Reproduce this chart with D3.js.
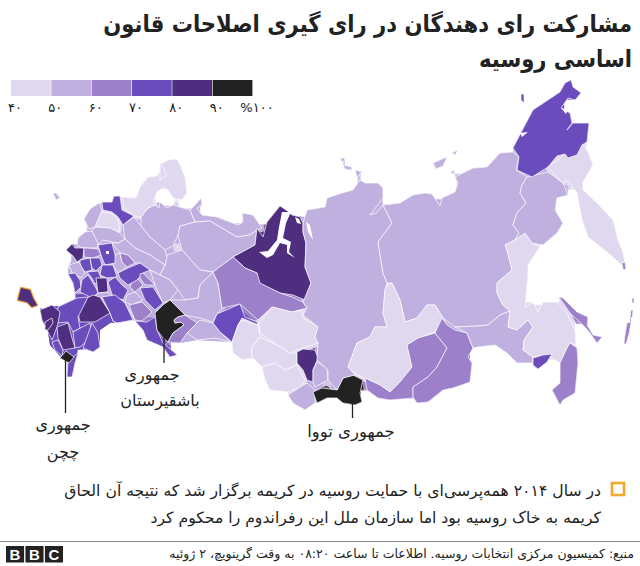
<!DOCTYPE html>
<html lang="fa"><head><meta charset="utf-8">
<script src="https://cdn.jsdelivr.net/npm/d3@7"></script>
<style>html,body{margin:0;background:#fff}svg{display:block}text{font-family:"DejaVu Sans",sans-serif;fill:#222}</style>
</head><body><svg id="c" width="640" height="566"></svg>
<script>
// Legend
const legendBreaks=[40,50,60,70,80,90,100];
const legendLabels=["۴۰","۵۰","۶۰","۷۰","۸۰","۹۰","%۱۰۰"];
const binColours=["#e0d8ef","#bfb0e0","#9c80c9","#6a4cbc","#4f2e80","#222222"];
// Region names, estimated turnout (read from the colour bins), outlines
const regionNames=["base","south base","ural base","Arkhangelsk","Nenets","Komi","Kirov","Perm","Vologda","Kostroma","Mari","Udmurtia","Karelia-Murmansk","Leningrad","Novgorod","Pskov","Tver","Smolensk","Bryansk","Oryol","Kaluga","Tula","Ryazan","Moscow","Kursk","Lipetsk","Belgorod","Voronezh W","Tambov","Voronezh","Penza","Nizhny","Ivanovo","Chuvashia","Kirov S","Tatarstan","Ulyanovsk","Samara","Saratov-Orenburg","Bashkortostan","Chelyabinsk","Kurgan","Rostov","Volgograd","Krasnodar N","Krasnodar","Adygea","Stavropol","Kalmykia W","Kalmykia E","KChR","Dagestan","Chechnya","Crimea","Khanty-Yamal","Sverdlovsk","Tyumen","Omsk S","Tomsk","Novosibirsk","Altai Krai","Kemerovo","Khakassia","Altai Rep","Tuva","Krasnoyarsk","Yakutia","Irkutsk","Buryatia","Zabaykalsky","Amur","Khabarovsk","Jewish AO","Primorye","Sakhalin","Magadan","Kamchatka","Chukotka","Wrangel","Kuril 1","Kuril 2","Kuril 3","Kuril 4","Isl 1","Isl 2","Isl 3","Isl 4","Isl 5","Isl 6","Novaya","Kaliningrad"];
const regionTurnout=[55,75,55,55,55,55,55,55,55,55,55,55,45,75,45,55,55,55,85,65,75,75,75,75,55,75,75,75,65,85,75,75,65,65,55,75,55,65,75,95,65,55,85,75,75,85,85,85,75,75,75,75,95,85,85,65,75,45,45,45,45,85,55,55,95,55,55,45,65,65,55,45,75,65,65,55,45,75,75,65,65,65,65,55,55,55,55,55,55,45,55];
const regionOutlines=[
[[120,233],[134,217],[165,250],[200,285],[185,315],[155,313],[135,320],[110,313],[93,295],[80,292],[73,283],[68,274],[69,265],[78,250],[85,232]],
[[58,307],[77,298],[93,295],[110,313],[113,321],[100,330],[100,347],[75,350],[60,356],[50,345],[48,332],[58,323],[68,322]],
[[155,313],[222,308],[232,342],[197,340],[180,343],[170,342]],
[[141,217],[148,208],[155,205],[159,208],[160,202],[167,208],[173,205],[190,210],[195,222],[180,226],[178,235],[173,246],[165,250],[150,237],[141,226]],
[[190,210],[195,205],[201,198],[202,205],[197,208],[202,215],[217,217],[238,225],[243,222],[242,213],[253,215],[262,228],[257,230],[250,235],[237,237],[220,227],[210,221],[195,222]],
[[195,222],[210,221],[220,227],[237,237],[250,235],[257,230],[255,245],[233,257],[213,272],[200,270],[182,250],[178,235],[180,226]],
[[167,255],[182,250],[200,270],[213,272],[200,285],[198,298],[185,300],[178,290],[170,280],[160,275],[165,265]],
[[213,272],[218,283],[222,308],[217,314],[213,322],[200,318],[185,315],[177,307],[170,300],[185,300],[198,298],[200,285]],
[[123,225],[134,217],[141,226],[150,237],[165,250],[167,258],[165,265],[150,255],[135,248],[125,239]],
[[125,239],[135,248],[150,255],[165,265],[160,275],[150,270],[140,263],[135,263],[128,255],[120,253],[112,243],[118,243]],
[[115,255],[120,253],[122,262],[127,267],[118,273],[113,265]],
[[150,270],[160,275],[170,280],[178,290],[170,300],[163,303],[155,285]],
[[122,197],[136,198],[140,187],[148,177],[157,176],[160,170],[161,164],[168,160],[177,159],[181,167],[185,177],[187,193],[182,200],[173,198],[168,190],[163,187],[157,192],[154,200],[155,205],[148,208],[141,217],[134,216],[124,208]],
[[102,202],[112,202],[114,196],[120,196],[122,210],[134,216],[123,225],[118,217],[112,212],[103,210]],
[[100,212],[111,213],[118,219],[120,232],[110,228],[95,227]],
[[84,219],[90,209],[99,203],[102,210],[95,227],[89,229]],
[[92,231],[95,227],[110,228],[120,233],[125,239],[118,243],[103,240],[98,245]],
[[78,238],[85,232],[92,231],[98,243],[97,248],[82,248],[77,245]],
[[66,250],[72,244],[75,248],[84,248],[83,258],[77,262],[73,256]],
[[84,248],[87,248],[98,249],[101,255],[93,258],[84,257]],
[[98,245],[112,243],[115,255],[115,263],[105,265],[101,255]],
[[80,260],[90,258],[92,270],[85,272],[80,266]],
[[90,258],[100,258],[102,265],[96,271],[92,268]],
[[102,265],[113,265],[117,277],[107,278],[100,275]],
[[69,265],[79,262],[85,273],[81,278],[72,273]],
[[87,272],[98,271],[101,278],[95,284],[92,278]],
[[68,274],[75,273],[80,280],[81,287],[75,293],[73,283]],
[[82,280],[88,275],[96,288],[98,293],[92,298],[80,292]],
[[132,282],[138,279],[143,285],[135,292],[130,287]],
[[96,278],[107,278],[108,292],[98,293]],
[[108,282],[115,277],[122,285],[128,290],[123,300],[113,297]],
[[118,273],[128,268],[140,263],[150,270],[143,273],[137,280],[128,285],[120,278]],
[[120,253],[128,255],[135,263],[127,267],[122,262]],
[[140,274],[143,273],[155,285],[145,285],[140,278]],
[[127,295],[135,292],[143,300],[132,305],[125,302]],
[[140,288],[153,287],[163,303],[155,310],[145,300]],
[[92,298],[98,293],[108,292],[113,297],[123,300],[125,303],[135,320],[117,323],[113,321],[110,313],[100,297]],
[[129,305],[142,302],[152,312],[142,321],[135,320]],
[[135,321],[147,322],[155,317],[157,330],[163,343],[168,347],[177,355],[170,357],[163,347],[147,340],[143,330]],
[[155,313],[163,305],[170,300],[177,307],[185,315],[178,317],[174,320],[175,323],[181,322],[184,325],[173,333],[168,342],[163,338],[157,330]],
[[185,315],[197,323],[187,333],[180,343],[168,342],[173,333],[184,325],[181,322],[175,323],[174,320],[178,317]],
[[200,320],[213,323],[220,332],[230,342],[215,338],[197,340],[187,333],[197,323]],
[[78,313],[85,303],[87,298],[93,295],[100,297],[105,305],[110,313],[95,322],[80,322]],
[[102,297],[115,295],[125,303],[133,320],[117,323],[113,321],[110,313]],
[[58,307],[77,298],[88,297],[78,317],[80,328],[73,332],[68,322],[57,323]],
[[40,310],[52,305],[60,312],[58,323],[57,327],[52,340],[48,332],[42,320]],
[[45,322],[52,318],[53,323],[48,330],[45,330]],
[[57,327],[68,323],[72,338],[75,348],[63,350],[58,338]],
[[73,332],[90,323],[92,337],[80,347],[75,348]],
[[92,323],[98,333],[100,347],[93,352],[83,348]],
[[52,342],[58,340],[63,350],[62,356],[55,350]],
[[78,353],[75,363],[72,377],[67,377],[68,362],[73,357]],
[[60,358],[66,351],[74,357],[69,363]],
[[21,288],[30,290],[33,298],[37,305],[32,307],[27,302],[18,300]],
[[233,257],[255,245],[257,228],[263,237],[267,222],[280,206],[286,210],[292,215],[300,217],[303,223],[303,232],[306,243],[305,267],[311,283],[305,300],[293,295],[280,293],[258,283],[257,273],[245,268]],
[[233,257],[213,272],[218,283],[222,308],[240,304],[258,320],[272,307],[292,312],[307,308],[303,302],[292,297],[280,293],[260,283],[257,273],[245,268]],
[[213,323],[217,314],[240,304],[245,317],[257,322],[258,325],[242,318],[238,325],[232,342],[220,332]],
[[238,325],[242,320],[258,325],[260,337],[252,347],[252,358],[243,360],[233,353],[232,342]],
[[259,323],[272,307],[292,312],[302,310],[303,318],[318,327],[315,337],[318,343],[297,350],[290,353],[277,345],[260,333]],
[[260,337],[277,345],[290,353],[297,353],[297,365],[285,370],[275,363],[262,367],[252,357],[252,347]],
[[262,367],[275,363],[285,370],[297,365],[305,380],[300,387],[288,392],[270,390],[265,380]],
[[297,352],[303,349],[315,350],[318,358],[313,370],[313,382],[307,380],[303,370],[297,363]],
[[317,362],[327,368],[328,380],[315,387],[313,382],[313,370]],
[[288,395],[300,387],[307,383],[315,390],[315,403],[305,410],[293,403]],
[[313,392],[322,388],[337,390],[343,378],[353,375],[363,380],[360,393],[362,402],[355,405],[343,403],[337,398],[327,398],[317,403]],
[[307,210],[325,207],[327,198],[342,193],[353,190],[360,180],[365,183],[378,183],[383,188],[383,198],[370,215],[376,213],[383,205],[392,223],[378,242],[383,273],[387,283],[385,290],[383,313],[387,327],[375,327],[370,337],[357,343],[348,367],[355,375],[343,378],[337,390],[328,380],[328,370],[317,360],[318,343],[315,337],[318,327],[303,315],[307,308],[303,302],[311,283],[305,267],[306,243],[303,232],[303,223]],
[[383,205],[400,203],[413,195],[425,193],[432,194],[440,206],[442,198],[455,192],[458,183],[455,177],[473,168],[487,167],[500,153],[513,152],[519,157],[516,170],[527,177],[522,185],[520,193],[526,203],[517,213],[513,225],[519,233],[515,240],[505,245],[507,250],[512,270],[497,283],[497,293],[503,305],[510,311],[500,315],[488,325],[478,326],[455,327],[443,318],[435,305],[427,305],[417,318],[405,322],[400,300],[392,283],[387,283],[383,273],[378,242],[392,223]],
[[387,285],[392,283],[400,300],[405,322],[417,318],[427,305],[435,305],[443,318],[435,332],[418,338],[407,345],[412,367],[400,382],[390,392],[380,385],[365,378],[357,375],[348,367],[357,343],[370,337],[375,327],[387,327],[383,313],[385,290]],
[[365,378],[380,385],[390,392],[400,382],[412,367],[407,345],[418,338],[435,333],[447,348],[437,367],[428,377],[413,387],[413,398],[390,400],[378,398],[367,390]],
[[435,333],[442,318],[447,325],[455,330],[467,333],[473,348],[468,357],[472,363],[470,382],[453,388],[443,390],[428,402],[417,403],[413,397],[413,387],[428,377],[437,367],[447,348]],
[[455,327],[478,326],[488,325],[500,315],[510,311],[508,327],[517,330],[528,320],[533,327],[524,340],[523,350],[533,357],[532,363],[517,363],[507,353],[495,345],[478,347],[473,348],[467,333]],
[[505,245],[515,240],[525,233],[532,243],[540,247],[528,265],[528,275],[525,308],[533,302],[538,312],[543,302],[557,302],[567,313],[575,330],[576,345],[570,343],[567,348],[560,363],[547,355],[533,357],[523,350],[524,340],[533,327],[528,320],[517,330],[508,327],[510,311],[503,305],[497,293],[497,283],[512,270],[507,250]],
[[533,358],[543,355],[552,354],[547,362],[538,369],[533,365]],
[[560,363],[567,348],[570,343],[577,348],[578,363],[575,393],[563,400],[560,405],[552,390],[560,383]],
[[559,297],[563,298],[577,312],[588,317],[587,325],[593,335],[602,337],[597,343],[590,333],[585,327],[570,313]],
[[527,177],[548,172],[563,183],[568,195],[557,198],[555,210],[563,223],[557,233],[543,245],[532,243],[525,233],[515,240],[519,233],[513,225],[517,213],[526,203],[520,193],[522,185]],
[[548,167],[565,154],[570,157],[583,143],[588,152],[593,165],[583,182],[583,190],[597,203],[613,220],[618,240],[623,252],[626,269],[607,252],[588,237],[582,220],[577,193],[568,180],[563,183],[557,177]],
[[513,148],[525,125],[533,110],[557,94],[560,92],[565,83],[571,80],[573,87],[581,93],[575,100],[568,98],[561,108],[570,113],[572,123],[567,130],[573,123],[589,123],[587,142],[582,145],[577,155],[568,158],[565,154],[557,156],[548,167],[532,177],[517,170],[519,157]],
[[521,94],[524,94],[524,103],[521,100]],
[[622,263],[625,262],[626,270],[623,269]],
[[632,298],[634,298],[634,303],[632,303]],
[[631,310],[633,310],[632,318],[630,318]],
[[627,323],[631,322],[629,334],[626,344],[624,344],[625,335]],
[[340,158],[345,158],[343,163]],
[[343,165],[352,167],[350,170],[345,169]],
[[355,170],[362,172],[357,177]],
[[433,163],[447,157],[443,166],[436,169]],
[[452,153],[458,150],[455,155]],
[[450,172],[455,170],[453,174]],
[[160,163],[164,168],[166,176],[160,180]],
[[53,193],[56,193],[60,198],[56,200]]
];
// Sea cut-outs (gulfs, lagoons)
const waterOutlines=[
[[282,212],[291,212],[286,223],[283,238],[291,242],[289,252],[295,258],[287,253],[287,245],[280,243],[273,255],[267,258],[259,252],[268,251],[277,240],[279,227]],
[[295,217],[299,219],[301,224],[297,223]],
[[306,222],[310,225],[313,240],[308,232]],
[[106,251],[109,251],[109,254],[106,254]],
[[520,133],[528,132],[522,137]],
[[561,108],[568,110],[566,114]]
];
const highlightName="Crimea";
const unstroked=["base","south base","ural base"];
const callouts=[
 {name:"Chechnya",lines:["جمهوری","چچن"],x:65.5,y1:359,y2:413,labelX:[63,63],labelY:[430,458],size:16},
 {name:"Bashkortostan",lines:["جمهوری","باشقیرستان"],x:164,y1:328,y2:363,labelX:[152,160],labelY:[380,406],size:16},
 {name:"Tuva",lines:["جمهوری تووا"],x:352.5,y1:400,y2:418,labelX:[351],labelY:[437],size:16.5}
];
const titleLines=["مشارکت رای دهندگان در رای گیری اصلاحات قانون","اساسی روسیه"];
const noteLines=["در سال ۲۰۱۴ همه‌پرسی‌ای با حمایت روسیه در کریمه برگزار شد که نتیجه آن الحاق","کریمه به خاک روسیه بود اما سازمان ملل این رفراندوم را محکوم کرد"];
const sourceLine="منبع: کمیسیون مرکزی انتخابات روسیه. اطلاعات تا ساعت ۰۸:۲۰ به وقت گرینویچ، ۲ ژوئیه";
const logoLetters=["B","B","C"];

const svg=d3.select("#c");
const colour=d3.scaleThreshold().domain(legendBreaks.slice(1,-1)).range(binColours);
const path=d3.geoPath(d3.geoIdentity());
const poly=r=>({type:"Polygon",coordinates:[[...r,r[0]]]});

// closing filter: fills the hairline gaps between traced outlines without growing the coast
const f=svg.append("defs").append("filter").attr("id","closeGaps").attr("filterUnits","userSpaceOnUse")
 .attr("x",0).attr("y",0).attr("width",640).attr("height",566).attr("color-interpolation-filters","sRGB");
f.append("feMorphology").attr("in","SourceGraphic").attr("operator","dilate").attr("radius",3).attr("result","dil");
f.append("feMorphology").attr("in","dil").attr("operator","erode").attr("radius",3).attr("result","closed");
f.append("feComposite").attr("in","dil").attr("in2","closed").attr("operator","in");

// title
svg.selectAll(".t").data(titleLines).join("text").attr("class","t")
 .attr("transform",(d,i)=>`translate(632,${32+i*34.5}) scale(.9,1)`).attr("direction","rtl")
 .attr("font-size",23.5).attr("font-weight","700").text(d=>d);

// legend
const lx=d3.scaleLinear().domain([40,100]).range([11,253]);
svg.selectAll(".lg").data(d3.pairs(legendBreaks)).join("rect").attr("class","lg")
 .attr("x",d=>lx(d[0])).attr("width",d=>lx(d[1])-lx(d[0])-0.6).attr("y",80).attr("height",16)
 .attr("fill",d=>colour(d[0]));
svg.selectAll(".lt").data(legendBreaks).join("text").attr("class","lt")
 .attr("x",d=>lx(d)+4).attr("y",112).attr("text-anchor","middle").attr("font-size",13)
 .text((d,i)=>legendLabels[i]);

// map
const features=regionOutlines.map((o,i)=>({name:regionNames[i],v:regionTurnout[i],o}));
svg.append("g").attr("filter","url(#closeGaps)").selectAll("path").data(features).join("path")
 .attr("d",d=>path(poly(d.o))).attr("fill",d=>colour(d.v));
const g=svg.append("g");
g.selectAll(".r").data(features)
 .join("path").attr("class","r").attr("d",d=>path(poly(d.o)))
 .attr("fill",d=>colour(d.v)).attr("stroke",d=>unstroked.includes(d.name)?"none":"#fff")
 .attr("stroke-width",.7).attr("stroke-linejoin","round");
g.selectAll(".w").data(waterOutlines).join("path").attr("class","w").attr("d",d=>path(poly(d))).attr("fill","#fff");
// Crimea highlight on top
const ci=regionNames.indexOf(highlightName);
g.append("path").attr("d",path(poly(regionOutlines[ci]))).attr("fill",colour(regionTurnout[ci]))
 .attr("stroke","#e8a33a").attr("stroke-width",2.4).attr("stroke-linejoin","round").attr("paint-order","stroke");

// callouts
callouts.forEach(c=>{
 svg.append("line").attr("x1",c.x).attr("x2",c.x).attr("y1",c.y1).attr("y2",c.y2).attr("stroke","#222").attr("stroke-width",1.3);
 c.lines.forEach((l,i)=>svg.append("text").attr("x",c.labelX[i]).attr("y",c.labelY[i]).attr("text-anchor","middle").attr("direction","rtl").attr("font-size",c.size).text(l));
});

// note
svg.append("rect").attr("x",612).attr("y",483).attr("width",12).attr("height",12).attr("fill","none").attr("stroke","#f0a92e").attr("stroke-width",2.6);
svg.selectAll(".n").data(noteLines).join("text").attr("class","n")
 .attr("transform",(d,i)=>`translate(601,${496+i*27}) scale(1.01,1)`)
 .attr("direction","rtl").attr("font-size",15.5).text(d=>d);

// footer
svg.append("line").attr("x1",0).attr("x2",640).attr("y1",541.5).attr("y2",541.5).attr("stroke","#888").attr("stroke-width",1);
const bx=d3.scaleBand().domain(d3.range(logoLetters.length)).range([6,63]).paddingInner(.07);
svg.selectAll(".b").data(logoLetters).join("rect").attr("class","b").attr("x",(d,i)=>bx(i)).attr("y",546).attr("width",bx.bandwidth()).attr("height",16.5).attr("fill","#222");
svg.selectAll(".bt").data(logoLetters).join("text").attr("class","bt").attr("x",(d,i)=>bx(i)+bx.bandwidth()/2).attr("y",559.5)
 .attr("text-anchor","middle").attr("font-weight","700").attr("font-size",15).style("fill","#fff").style("font-family","Liberation Sans").text(d=>d);
svg.append("text").attr("x",634).attr("y",558).attr("direction","rtl").attr("font-size",12.5).text(sourceLine);
</script></body></html>
